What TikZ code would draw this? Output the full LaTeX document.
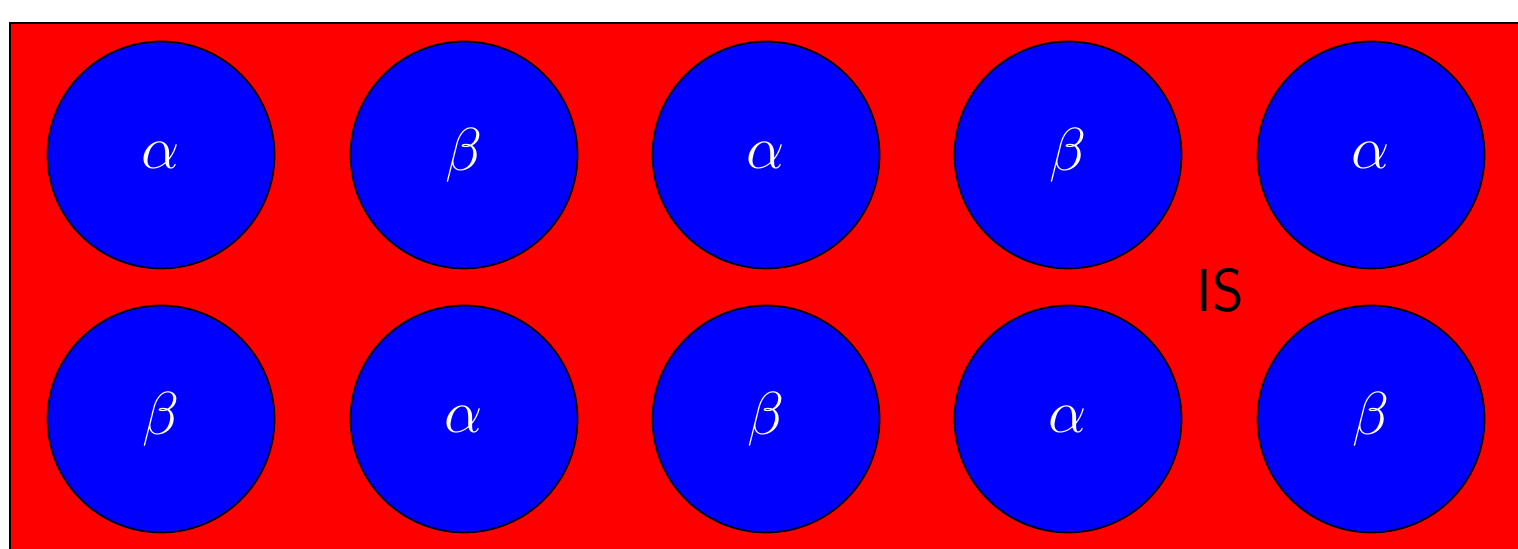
\documentclass[tikz,border=0pt]{standalone}
\usepackage{amsmath}
\usetikzlibrary{positioning}

\begin{document}
\begin{tikzpicture}[line width=0.5pt,
    grain/.style={draw=black,circle,fill=blue,text=white,minimum size=2.27cm,inner sep=0pt,font=\LARGE}]
  \clip (0,0) rectangle (15.18,5.49);
  \fill[white] (0,0) rectangle (15.18,5.49);
  \draw[fill=red] (0.10,-0.5) rectangle (15.6,5.26);
  \node[grain] (a1) at (1.61,3.94){$\alpha$};
  \node[grain] (b1) at (4.64,3.94){$\beta$};
  \node[grain] (a2) at (7.66,3.94){$\alpha$};
  \node[grain] (b2) at (10.68,3.94){$\beta$};
  \node[grain] (a3) at (13.71,3.94){$\alpha$};
  \node[grain] (b3) at (1.61,1.30){$\beta$};
  \node[grain] (a4) at (4.64,1.30){$\alpha$};
  \node[grain] (b4) at (7.66,1.30){$\beta$};
  \node[grain] (a5) at (10.68,1.30){$\alpha$};
  \node[grain] (b5) at (13.71,1.30){$\beta$};
  \node[font=\LARGE\sffamily] (is) at (12.20,2.59){IS};
\end{tikzpicture}
\end{document}
